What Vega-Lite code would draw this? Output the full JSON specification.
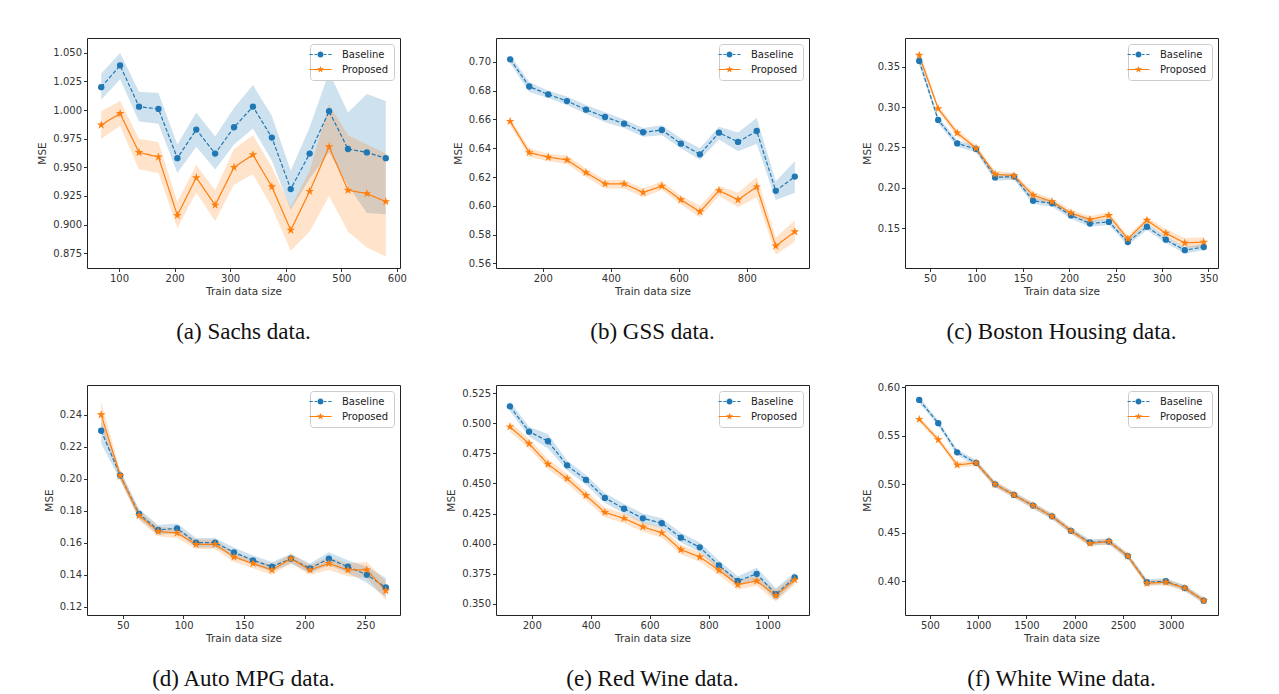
{
"$schema":"https://vega.github.io/schema/vega-lite/v6.json",
"background":"white",
"padding":{"left":37,"top":37,"right":10,"bottom":5},
"data":{"values":[
{"p":"a","x":68,"s":"Baseline","m":1.020,"lo":1.009,"hi":1.032},
{"p":"a","x":102,"s":"Baseline","m":1.039,"lo":1.027,"hi":1.050},
{"p":"a","x":136,"s":"Baseline","m":1.003,"lo":0.990,"hi":1.016},
{"p":"a","x":171,"s":"Baseline","m":1.001,"lo":0.988,"hi":1.015},
{"p":"a","x":205,"s":"Baseline","m":0.958,"lo":0.945,"hi":0.970},
{"p":"a","x":239,"s":"Baseline","m":0.983,"lo":0.968,"hi":0.998},
{"p":"a","x":273,"s":"Baseline","m":0.962,"lo":0.948,"hi":0.977},
{"p":"a","x":307,"s":"Baseline","m":0.985,"lo":0.970,"hi":1.002},
{"p":"a","x":341,"s":"Baseline","m":1.003,"lo":0.984,"hi":1.022},
{"p":"a","x":375,"s":"Baseline","m":0.976,"lo":0.956,"hi":0.995},
{"p":"a","x":409,"s":"Baseline","m":0.931,"lo":0.913,"hi":0.947},
{"p":"a","x":443,"s":"Baseline","m":0.962,"lo":0.940,"hi":0.985},
{"p":"a","x":478,"s":"Baseline","m":0.999,"lo":0.963,"hi":1.033},
{"p":"a","x":512,"s":"Baseline","m":0.966,"lo":0.934,"hi":0.998},
{"p":"a","x":546,"s":"Baseline","m":0.963,"lo":0.910,"hi":1.014},
{"p":"a","x":580,"s":"Baseline","m":0.958,"lo":0.909,"hi":1.008},
{"p":"a","x":68,"s":"Proposed","m":0.987,"lo":0.975,"hi":0.999},
{"p":"a","x":102,"s":"Proposed","m":0.997,"lo":0.986,"hi":1.008},
{"p":"a","x":136,"s":"Proposed","m":0.963,"lo":0.948,"hi":0.975},
{"p":"a","x":171,"s":"Proposed","m":0.959,"lo":0.945,"hi":0.972},
{"p":"a","x":205,"s":"Proposed","m":0.908,"lo":0.897,"hi":0.920},
{"p":"a","x":239,"s":"Proposed","m":0.941,"lo":0.928,"hi":0.952},
{"p":"a","x":273,"s":"Proposed","m":0.917,"lo":0.903,"hi":0.930},
{"p":"a","x":307,"s":"Proposed","m":0.950,"lo":0.935,"hi":0.966},
{"p":"a","x":341,"s":"Proposed","m":0.961,"lo":0.944,"hi":0.978},
{"p":"a","x":375,"s":"Proposed","m":0.933,"lo":0.915,"hi":0.950},
{"p":"a","x":409,"s":"Proposed","m":0.895,"lo":0.877,"hi":0.915},
{"p":"a","x":443,"s":"Proposed","m":0.929,"lo":0.894,"hi":0.947},
{"p":"a","x":478,"s":"Proposed","m":0.968,"lo":0.925,"hi":1.005},
{"p":"a","x":512,"s":"Proposed","m":0.930,"lo":0.894,"hi":0.978},
{"p":"a","x":546,"s":"Proposed","m":0.927,"lo":0.880,"hi":0.970},
{"p":"a","x":580,"s":"Proposed","m":0.920,"lo":0.872,"hi":0.962},
{"p":"b","x":104,"s":"Baseline","m":0.7018,"lo":0.699,"hi":0.705},
{"p":"b","x":160,"s":"Baseline","m":0.6829,"lo":0.679,"hi":0.686},
{"p":"b","x":216,"s":"Baseline","m":0.6774,"lo":0.675,"hi":0.680},
{"p":"b","x":271,"s":"Baseline","m":0.6728,"lo":0.670,"hi":0.676},
{"p":"b","x":327,"s":"Baseline","m":0.6668,"lo":0.664,"hi":0.670},
{"p":"b","x":383,"s":"Baseline","m":0.6617,"lo":0.658,"hi":0.665},
{"p":"b","x":439,"s":"Baseline","m":0.6571,"lo":0.654,"hi":0.660},
{"p":"b","x":495,"s":"Baseline","m":0.6511,"lo":0.648,"hi":0.654},
{"p":"b","x":550,"s":"Baseline","m":0.6527,"lo":0.649,"hi":0.656},
{"p":"b","x":606,"s":"Baseline","m":0.6432,"lo":0.640,"hi":0.647},
{"p":"b","x":662,"s":"Baseline","m":0.6358,"lo":0.632,"hi":0.640},
{"p":"b","x":718,"s":"Baseline","m":0.6508,"lo":0.646,"hi":0.655},
{"p":"b","x":774,"s":"Baseline","m":0.6444,"lo":0.638,"hi":0.651},
{"p":"b","x":829,"s":"Baseline","m":0.6520,"lo":0.643,"hi":0.661},
{"p":"b","x":885,"s":"Baseline","m":0.6104,"lo":0.604,"hi":0.617},
{"p":"b","x":941,"s":"Baseline","m":0.6203,"lo":0.609,"hi":0.631},
{"p":"b","x":104,"s":"Proposed","m":0.6587,"lo":0.656,"hi":0.661},
{"p":"b","x":160,"s":"Proposed","m":0.6370,"lo":0.634,"hi":0.640},
{"p":"b","x":216,"s":"Proposed","m":0.6338,"lo":0.631,"hi":0.636},
{"p":"b","x":271,"s":"Proposed","m":0.6319,"lo":0.629,"hi":0.635},
{"p":"b","x":327,"s":"Proposed","m":0.6231,"lo":0.620,"hi":0.626},
{"p":"b","x":383,"s":"Proposed","m":0.6153,"lo":0.612,"hi":0.618},
{"p":"b","x":439,"s":"Proposed","m":0.6153,"lo":0.612,"hi":0.618},
{"p":"b","x":495,"s":"Proposed","m":0.6093,"lo":0.606,"hi":0.612},
{"p":"b","x":550,"s":"Proposed","m":0.6137,"lo":0.611,"hi":0.617},
{"p":"b","x":606,"s":"Proposed","m":0.6042,"lo":0.601,"hi":0.607},
{"p":"b","x":662,"s":"Proposed","m":0.5959,"lo":0.592,"hi":0.600},
{"p":"b","x":718,"s":"Proposed","m":0.6106,"lo":0.607,"hi":0.614},
{"p":"b","x":774,"s":"Proposed","m":0.6042,"lo":0.599,"hi":0.609},
{"p":"b","x":829,"s":"Proposed","m":0.6132,"lo":0.606,"hi":0.620},
{"p":"b","x":885,"s":"Proposed","m":0.5721,"lo":0.566,"hi":0.578},
{"p":"b","x":941,"s":"Proposed","m":0.5820,"lo":0.575,"hi":0.590},
{"p":"c","x":38.5,"s":"Baseline","m":0.357,"lo":0.352,"hi":0.362},
{"p":"c","x":58.9,"s":"Baseline","m":0.284,"lo":0.280,"hi":0.288},
{"p":"c","x":79.4,"s":"Baseline","m":0.255,"lo":0.251,"hi":0.259},
{"p":"c","x":99.8,"s":"Baseline","m":0.248,"lo":0.244,"hi":0.252},
{"p":"c","x":120.2,"s":"Baseline","m":0.213,"lo":0.209,"hi":0.217},
{"p":"c","x":140.7,"s":"Baseline","m":0.214,"lo":0.210,"hi":0.218},
{"p":"c","x":161.1,"s":"Baseline","m":0.184,"lo":0.180,"hi":0.188},
{"p":"c","x":181.5,"s":"Baseline","m":0.181,"lo":0.177,"hi":0.185},
{"p":"c","x":202,"s":"Baseline","m":0.166,"lo":0.162,"hi":0.170},
{"p":"c","x":222.4,"s":"Baseline","m":0.156,"lo":0.152,"hi":0.160},
{"p":"c","x":242.8,"s":"Baseline","m":0.158,"lo":0.154,"hi":0.162},
{"p":"c","x":263.2,"s":"Baseline","m":0.133,"lo":0.129,"hi":0.137},
{"p":"c","x":283.7,"s":"Baseline","m":0.152,"lo":0.148,"hi":0.156},
{"p":"c","x":304.1,"s":"Baseline","m":0.136,"lo":0.132,"hi":0.140},
{"p":"c","x":324.5,"s":"Baseline","m":0.123,"lo":0.119,"hi":0.127},
{"p":"c","x":345,"s":"Baseline","m":0.127,"lo":0.123,"hi":0.131},
{"p":"c","x":38.5,"s":"Proposed","m":0.364,"lo":0.358,"hi":0.370},
{"p":"c","x":58.9,"s":"Proposed","m":0.298,"lo":0.294,"hi":0.302},
{"p":"c","x":79.4,"s":"Proposed","m":0.268,"lo":0.264,"hi":0.272},
{"p":"c","x":99.8,"s":"Proposed","m":0.249,"lo":0.245,"hi":0.253},
{"p":"c","x":120.2,"s":"Proposed","m":0.217,"lo":0.213,"hi":0.221},
{"p":"c","x":140.7,"s":"Proposed","m":0.215,"lo":0.211,"hi":0.219},
{"p":"c","x":161.1,"s":"Proposed","m":0.191,"lo":0.187,"hi":0.195},
{"p":"c","x":181.5,"s":"Proposed","m":0.183,"lo":0.179,"hi":0.187},
{"p":"c","x":202,"s":"Proposed","m":0.169,"lo":0.165,"hi":0.173},
{"p":"c","x":222.4,"s":"Proposed","m":0.161,"lo":0.157,"hi":0.165},
{"p":"c","x":242.8,"s":"Proposed","m":0.166,"lo":0.162,"hi":0.170},
{"p":"c","x":263.2,"s":"Proposed","m":0.137,"lo":0.133,"hi":0.141},
{"p":"c","x":283.7,"s":"Proposed","m":0.160,"lo":0.156,"hi":0.164},
{"p":"c","x":304.1,"s":"Proposed","m":0.144,"lo":0.139,"hi":0.149},
{"p":"c","x":324.5,"s":"Proposed","m":0.132,"lo":0.126,"hi":0.138},
{"p":"c","x":345,"s":"Proposed","m":0.133,"lo":0.127,"hi":0.139},
{"p":"d","x":32.1,"s":"Baseline","m":0.230,"lo":0.222,"hi":0.237},
{"p":"d","x":47.8,"s":"Baseline","m":0.202,"lo":0.199,"hi":0.205},
{"p":"d","x":63.4,"s":"Baseline","m":0.178,"lo":0.175,"hi":0.181},
{"p":"d","x":79.1,"s":"Baseline","m":0.168,"lo":0.165,"hi":0.171},
{"p":"d","x":94.7,"s":"Baseline","m":0.169,"lo":0.166,"hi":0.172},
{"p":"d","x":110.4,"s":"Baseline","m":0.160,"lo":0.157,"hi":0.163},
{"p":"d","x":126.1,"s":"Baseline","m":0.160,"lo":0.157,"hi":0.163},
{"p":"d","x":141.7,"s":"Baseline","m":0.154,"lo":0.151,"hi":0.157},
{"p":"d","x":157.4,"s":"Baseline","m":0.149,"lo":0.146,"hi":0.152},
{"p":"d","x":173.0,"s":"Baseline","m":0.145,"lo":0.142,"hi":0.148},
{"p":"d","x":188.7,"s":"Baseline","m":0.150,"lo":0.147,"hi":0.153},
{"p":"d","x":204.4,"s":"Baseline","m":0.144,"lo":0.141,"hi":0.147},
{"p":"d","x":220.0,"s":"Baseline","m":0.150,"lo":0.146,"hi":0.154},
{"p":"d","x":235.7,"s":"Baseline","m":0.145,"lo":0.141,"hi":0.149},
{"p":"d","x":251.3,"s":"Baseline","m":0.140,"lo":0.135,"hi":0.145},
{"p":"d","x":267.0,"s":"Baseline","m":0.132,"lo":0.126,"hi":0.138},
{"p":"d","x":32.1,"s":"Proposed","m":0.240,"lo":0.232,"hi":0.248},
{"p":"d","x":47.8,"s":"Proposed","m":0.202,"lo":0.199,"hi":0.205},
{"p":"d","x":63.4,"s":"Proposed","m":0.177,"lo":0.174,"hi":0.180},
{"p":"d","x":79.1,"s":"Proposed","m":0.167,"lo":0.164,"hi":0.170},
{"p":"d","x":94.7,"s":"Proposed","m":0.166,"lo":0.163,"hi":0.169},
{"p":"d","x":110.4,"s":"Proposed","m":0.159,"lo":0.156,"hi":0.162},
{"p":"d","x":126.1,"s":"Proposed","m":0.159,"lo":0.156,"hi":0.162},
{"p":"d","x":141.7,"s":"Proposed","m":0.151,"lo":0.148,"hi":0.154},
{"p":"d","x":157.4,"s":"Proposed","m":0.147,"lo":0.144,"hi":0.150},
{"p":"d","x":173.0,"s":"Proposed","m":0.143,"lo":0.140,"hi":0.146},
{"p":"d","x":188.7,"s":"Proposed","m":0.150,"lo":0.147,"hi":0.153},
{"p":"d","x":204.4,"s":"Proposed","m":0.143,"lo":0.140,"hi":0.146},
{"p":"d","x":220.0,"s":"Proposed","m":0.147,"lo":0.143,"hi":0.151},
{"p":"d","x":235.7,"s":"Proposed","m":0.143,"lo":0.139,"hi":0.147},
{"p":"d","x":251.3,"s":"Proposed","m":0.143,"lo":0.138,"hi":0.148},
{"p":"d","x":267.0,"s":"Proposed","m":0.130,"lo":0.124,"hi":0.136},
{"p":"e","x":126,"s":"Baseline","m":0.514,"lo":0.510,"hi":0.518},
{"p":"e","x":191,"s":"Baseline","m":0.493,"lo":0.489,"hi":0.497},
{"p":"e","x":255,"s":"Baseline","m":0.485,"lo":0.479,"hi":0.491},
{"p":"e","x":320,"s":"Baseline","m":0.465,"lo":0.461,"hi":0.469},
{"p":"e","x":384,"s":"Baseline","m":0.453,"lo":0.449,"hi":0.457},
{"p":"e","x":448,"s":"Baseline","m":0.438,"lo":0.434,"hi":0.442},
{"p":"e","x":513,"s":"Baseline","m":0.429,"lo":0.425,"hi":0.433},
{"p":"e","x":577,"s":"Baseline","m":0.421,"lo":0.417,"hi":0.425},
{"p":"e","x":641,"s":"Baseline","m":0.417,"lo":0.413,"hi":0.421},
{"p":"e","x":706,"s":"Baseline","m":0.405,"lo":0.401,"hi":0.409},
{"p":"e","x":770,"s":"Baseline","m":0.397,"lo":0.393,"hi":0.401},
{"p":"e","x":835,"s":"Baseline","m":0.382,"lo":0.378,"hi":0.386},
{"p":"e","x":899,"s":"Baseline","m":0.369,"lo":0.365,"hi":0.373},
{"p":"e","x":963,"s":"Baseline","m":0.375,"lo":0.370,"hi":0.380},
{"p":"e","x":1028,"s":"Baseline","m":0.358,"lo":0.353,"hi":0.363},
{"p":"e","x":1092,"s":"Baseline","m":0.372,"lo":0.368,"hi":0.376},
{"p":"e","x":126,"s":"Proposed","m":0.497,"lo":0.493,"hi":0.501},
{"p":"e","x":191,"s":"Proposed","m":0.483,"lo":0.479,"hi":0.487},
{"p":"e","x":255,"s":"Proposed","m":0.466,"lo":0.462,"hi":0.470},
{"p":"e","x":320,"s":"Proposed","m":0.454,"lo":0.450,"hi":0.458},
{"p":"e","x":384,"s":"Proposed","m":0.440,"lo":0.436,"hi":0.444},
{"p":"e","x":448,"s":"Proposed","m":0.426,"lo":0.422,"hi":0.430},
{"p":"e","x":513,"s":"Proposed","m":0.421,"lo":0.417,"hi":0.425},
{"p":"e","x":577,"s":"Proposed","m":0.414,"lo":0.410,"hi":0.418},
{"p":"e","x":641,"s":"Proposed","m":0.409,"lo":0.405,"hi":0.413},
{"p":"e","x":706,"s":"Proposed","m":0.395,"lo":0.391,"hi":0.399},
{"p":"e","x":770,"s":"Proposed","m":0.389,"lo":0.385,"hi":0.393},
{"p":"e","x":835,"s":"Proposed","m":0.378,"lo":0.374,"hi":0.382},
{"p":"e","x":899,"s":"Proposed","m":0.366,"lo":0.362,"hi":0.370},
{"p":"e","x":963,"s":"Proposed","m":0.369,"lo":0.365,"hi":0.373},
{"p":"e","x":1028,"s":"Proposed","m":0.357,"lo":0.352,"hi":0.362},
{"p":"e","x":1092,"s":"Proposed","m":0.370,"lo":0.366,"hi":0.374},
{"p":"f","x":389,"s":"Baseline","m":0.587,"lo":0.584,"hi":0.590},
{"p":"f","x":586,"s":"Baseline","m":0.563,"lo":0.560,"hi":0.566},
{"p":"f","x":782,"s":"Baseline","m":0.533,"lo":0.530,"hi":0.536},
{"p":"f","x":979,"s":"Baseline","m":0.522,"lo":0.519,"hi":0.525},
{"p":"f","x":1176,"s":"Baseline","m":0.500,"lo":0.497,"hi":0.503},
{"p":"f","x":1372,"s":"Baseline","m":0.489,"lo":0.486,"hi":0.492},
{"p":"f","x":1569,"s":"Baseline","m":0.478,"lo":0.475,"hi":0.481},
{"p":"f","x":1766,"s":"Baseline","m":0.467,"lo":0.464,"hi":0.470},
{"p":"f","x":1962,"s":"Baseline","m":0.452,"lo":0.449,"hi":0.455},
{"p":"f","x":2159,"s":"Baseline","m":0.440,"lo":0.437,"hi":0.443},
{"p":"f","x":2356,"s":"Baseline","m":0.441,"lo":0.438,"hi":0.444},
{"p":"f","x":2552,"s":"Baseline","m":0.426,"lo":0.423,"hi":0.429},
{"p":"f","x":2749,"s":"Baseline","m":0.399,"lo":0.396,"hi":0.402},
{"p":"f","x":2946,"s":"Baseline","m":0.400,"lo":0.397,"hi":0.403},
{"p":"f","x":3142,"s":"Baseline","m":0.393,"lo":0.390,"hi":0.396},
{"p":"f","x":3339,"s":"Baseline","m":0.380,"lo":0.377,"hi":0.383},
{"p":"f","x":389,"s":"Proposed","m":0.567,"lo":0.564,"hi":0.570},
{"p":"f","x":586,"s":"Proposed","m":0.546,"lo":0.543,"hi":0.549},
{"p":"f","x":782,"s":"Proposed","m":0.520,"lo":0.517,"hi":0.523},
{"p":"f","x":979,"s":"Proposed","m":0.522,"lo":0.519,"hi":0.525},
{"p":"f","x":1176,"s":"Proposed","m":0.500,"lo":0.497,"hi":0.503},
{"p":"f","x":1372,"s":"Proposed","m":0.489,"lo":0.486,"hi":0.492},
{"p":"f","x":1569,"s":"Proposed","m":0.478,"lo":0.475,"hi":0.481},
{"p":"f","x":1766,"s":"Proposed","m":0.467,"lo":0.464,"hi":0.470},
{"p":"f","x":1962,"s":"Proposed","m":0.452,"lo":0.449,"hi":0.455},
{"p":"f","x":2159,"s":"Proposed","m":0.439,"lo":0.436,"hi":0.442},
{"p":"f","x":2356,"s":"Proposed","m":0.441,"lo":0.438,"hi":0.444},
{"p":"f","x":2552,"s":"Proposed","m":0.426,"lo":0.423,"hi":0.429},
{"p":"f","x":2749,"s":"Proposed","m":0.398,"lo":0.395,"hi":0.401},
{"p":"f","x":2946,"s":"Proposed","m":0.399,"lo":0.396,"hi":0.402},
{"p":"f","x":3142,"s":"Proposed","m":0.393,"lo":0.390,"hi":0.396},
{"p":"f","x":3339,"s":"Proposed","m":0.380,"lo":0.377,"hi":0.383}
]},
"columns":3,
"spacing":{"row":117,"column":96},
"bounds":"flush",
"resolve":{"scale":{"x":"independent","y":"independent","color":"independent","shape":"independent","strokeDash":"independent"},"legend":{"color":"independent","shape":"independent"}},
"concat":[
{"width":313,"height":230,"title":"(a) Sachs data.","transform":[{"filter":"datum.p === 'a'"}],
"layer":[
{"mark":{"type":"area","opacity":0.22},"encoding":{
"x":{"field":"x","type":"quantitative","scale":{"domain":[42.4,605.6],"nice":false,"zero":false},"axis":{"values":[100,200,300,400,500,600],"format":"d","tickCount":30},"title":"Train data size"},
"y":{"field":"lo","type":"quantitative","scale":{"domain":[0.862,1.063],"nice":false,"zero":false},"axis":{"values":[0.875,0.9,0.925,0.95,0.975,1.0,1.025,1.05],"format":".3f","tickCount":30},"title":"MSE"},
"y2":{"field":"hi"},
"color":{"field":"s","type":"nominal","scale":{"domain":["Baseline","Proposed"],"range":["#1f77b4","#ff7f0e"]},"legend":{"title":null}}}},
{"mark":{"type":"line","strokeWidth":1.2},"encoding":{
"x":{"field":"x","type":"quantitative","title":"Train data size"},
"y":{"field":"m","type":"quantitative","title":"MSE"},
"color":{"field":"s","type":"nominal","legend":{"title":null}},
"strokeDash":{"field":"s","type":"nominal","scale":{"domain":["Baseline","Proposed"],"range":[[4,2],[1,0]]},"legend":null}}},
{"transform":[{"filter":"datum.s === 'Baseline'"}],"mark":{"type":"point","filled":true,"size":40,"opacity":1,"shape":"circle","color":"#1f77b4"},"encoding":{
"x":{"field":"x","type":"quantitative","title":"Train data size"},
"y":{"field":"m","type":"quantitative","title":"MSE"}}},
{"transform":[{"filter":"datum.s === 'Proposed'"}],"mark":{"type":"point","filled":true,"size":40,"opacity":1,"shape":"M0,-1.45L0.324,-0.446L1.379,-0.448L0.524,0.17L0.852,1.173L0,0.551L-0.852,1.173L-0.524,0.17L-1.379,-0.448L-0.324,-0.446Z","color":"#ff7f0e"},"encoding":{
"x":{"field":"x","type":"quantitative","title":"Train data size"},
"y":{"field":"m","type":"quantitative","title":"MSE"}}},
{"mark":{"type":"point","filled":true,"size":121,"opacity":0},"encoding":{
"x":{"field":"x","type":"quantitative","title":"Train data size"},
"y":{"field":"m","type":"quantitative","title":"MSE"},
"color":{"field":"s","type":"nominal","legend":{"title":null}},
"shape":{"field":"s","type":"nominal","scale":{"domain":["Baseline","Proposed"],"range":["M-2,-0.1H-1.4V0.1H-2Z M-1.1,-0.1H-0.65V0.1H-1.1Z M0.65,-0.1H1.1V0.1H0.65Z M1.4,-0.1H2V0.1H1.4Z M-0.55,0A0.55,0.55,0,1,1,0.55,0A0.55,0.55,0,1,1,-0.55,0Z","M-2,-0.1H2V0.1H-2Z M0,-0.7L0.156,-0.215L0.666,-0.216L0.253,0.082L0.412,0.566L0,0.266L-0.412,0.566L-0.253,0.082L-0.666,-0.216L-0.156,-0.215Z"]},"legend":{"title":null}}}}
]},
{"width":313,"height":230,"title":"(b) GSS data.","transform":[{"filter":"datum.p === 'b'"}],
"layer":[
{"mark":{"type":"area","opacity":0.22},"encoding":{
"x":{"field":"x","type":"quantitative","scale":{"domain":[62.4,982.7],"nice":false,"zero":false},"axis":{"values":[200,400,600,800],"format":"d","tickCount":30},"title":"Train data size"},
"y":{"field":"lo","type":"quantitative","scale":{"domain":[0.5568,0.7166],"nice":false,"zero":false},"axis":{"values":[0.56,0.58,0.6,0.62,0.64,0.66,0.68,0.7],"format":".2f","tickCount":30},"title":"MSE"},
"y2":{"field":"hi"},
"color":{"field":"s","type":"nominal","scale":{"domain":["Baseline","Proposed"],"range":["#1f77b4","#ff7f0e"]},"legend":{"title":null}}}},
{"mark":{"type":"line","strokeWidth":1.2},"encoding":{
"x":{"field":"x","type":"quantitative","title":"Train data size"},
"y":{"field":"m","type":"quantitative","title":"MSE"},
"color":{"field":"s","type":"nominal","legend":{"title":null}},
"strokeDash":{"field":"s","type":"nominal","scale":{"domain":["Baseline","Proposed"],"range":[[4,2],[1,0]]},"legend":null}}},
{"transform":[{"filter":"datum.s === 'Baseline'"}],"mark":{"type":"point","filled":true,"size":40,"opacity":1,"shape":"circle","color":"#1f77b4"},"encoding":{
"x":{"field":"x","type":"quantitative","title":"Train data size"},
"y":{"field":"m","type":"quantitative","title":"MSE"}}},
{"transform":[{"filter":"datum.s === 'Proposed'"}],"mark":{"type":"point","filled":true,"size":40,"opacity":1,"shape":"M0,-1.45L0.324,-0.446L1.379,-0.448L0.524,0.17L0.852,1.173L0,0.551L-0.852,1.173L-0.524,0.17L-1.379,-0.448L-0.324,-0.446Z","color":"#ff7f0e"},"encoding":{
"x":{"field":"x","type":"quantitative","title":"Train data size"},
"y":{"field":"m","type":"quantitative","title":"MSE"}}},
{"mark":{"type":"point","filled":true,"size":121,"opacity":0},"encoding":{
"x":{"field":"x","type":"quantitative","title":"Train data size"},
"y":{"field":"m","type":"quantitative","title":"MSE"},
"color":{"field":"s","type":"nominal","legend":{"title":null}},
"shape":{"field":"s","type":"nominal","scale":{"domain":["Baseline","Proposed"],"range":["M-2,-0.1H-1.4V0.1H-2Z M-1.1,-0.1H-0.65V0.1H-1.1Z M0.65,-0.1H1.1V0.1H0.65Z M1.4,-0.1H2V0.1H1.4Z M-0.55,0A0.55,0.55,0,1,1,0.55,0A0.55,0.55,0,1,1,-0.55,0Z","M-2,-0.1H2V0.1H-2Z M0,-0.7L0.156,-0.215L0.666,-0.216L0.253,0.082L0.412,0.566L0,0.266L-0.412,0.566L-0.253,0.082L-0.666,-0.216L-0.156,-0.215Z"]},"legend":{"title":null}}}}
]},
{"width":313,"height":230,"title":"(c) Boston Housing data.","transform":[{"filter":"datum.p === 'c'"}],
"layer":[
{"mark":{"type":"area","opacity":0.22},"encoding":{
"x":{"field":"x","type":"quantitative","scale":{"domain":[23.2,360.3],"nice":false,"zero":false},"axis":{"values":[50,100,150,200,250,300,350],"format":"d","tickCount":30},"title":"Train data size"},
"y":{"field":"lo","type":"quantitative","scale":{"domain":[0.101,0.3853],"nice":false,"zero":false},"axis":{"values":[0.15,0.2,0.25,0.3,0.35],"format":".2f","tickCount":30},"title":"MSE"},
"y2":{"field":"hi"},
"color":{"field":"s","type":"nominal","scale":{"domain":["Baseline","Proposed"],"range":["#1f77b4","#ff7f0e"]},"legend":{"title":null}}}},
{"mark":{"type":"line","strokeWidth":1.2},"encoding":{
"x":{"field":"x","type":"quantitative","title":"Train data size"},
"y":{"field":"m","type":"quantitative","title":"MSE"},
"color":{"field":"s","type":"nominal","legend":{"title":null}},
"strokeDash":{"field":"s","type":"nominal","scale":{"domain":["Baseline","Proposed"],"range":[[4,2],[1,0]]},"legend":null}}},
{"transform":[{"filter":"datum.s === 'Baseline'"}],"mark":{"type":"point","filled":true,"size":40,"opacity":1,"shape":"circle","color":"#1f77b4"},"encoding":{
"x":{"field":"x","type":"quantitative","title":"Train data size"},
"y":{"field":"m","type":"quantitative","title":"MSE"}}},
{"transform":[{"filter":"datum.s === 'Proposed'"}],"mark":{"type":"point","filled":true,"size":40,"opacity":1,"shape":"M0,-1.45L0.324,-0.446L1.379,-0.448L0.524,0.17L0.852,1.173L0,0.551L-0.852,1.173L-0.524,0.17L-1.379,-0.448L-0.324,-0.446Z","color":"#ff7f0e"},"encoding":{
"x":{"field":"x","type":"quantitative","title":"Train data size"},
"y":{"field":"m","type":"quantitative","title":"MSE"}}},
{"mark":{"type":"point","filled":true,"size":121,"opacity":0},"encoding":{
"x":{"field":"x","type":"quantitative","title":"Train data size"},
"y":{"field":"m","type":"quantitative","title":"MSE"},
"color":{"field":"s","type":"nominal","legend":{"title":null}},
"shape":{"field":"s","type":"nominal","scale":{"domain":["Baseline","Proposed"],"range":["M-2,-0.1H-1.4V0.1H-2Z M-1.1,-0.1H-0.65V0.1H-1.1Z M0.65,-0.1H1.1V0.1H0.65Z M1.4,-0.1H2V0.1H1.4Z M-0.55,0A0.55,0.55,0,1,1,0.55,0A0.55,0.55,0,1,1,-0.55,0Z","M-2,-0.1H2V0.1H-2Z M0,-0.7L0.156,-0.215L0.666,-0.216L0.253,0.082L0.412,0.566L0,0.266L-0.412,0.566L-0.253,0.082L-0.666,-0.216L-0.156,-0.215Z"]},"legend":{"title":null}}}}
]},
{"width":313,"height":230,"title":"(d) Auto MPG data.","transform":[{"filter":"datum.p === 'd'"}],
"layer":[
{"mark":{"type":"area","opacity":0.22},"encoding":{
"x":{"field":"x","type":"quantitative","scale":{"domain":[20.4,278.7],"nice":false,"zero":false},"axis":{"values":[50,100,150,200,250],"format":"d","tickCount":30},"title":"Train data size"},
"y":{"field":"lo","type":"quantitative","scale":{"domain":[0.1148,0.2586],"nice":false,"zero":false},"axis":{"values":[0.12,0.14,0.16,0.18,0.2,0.22,0.24],"format":".2f","tickCount":30},"title":"MSE"},
"y2":{"field":"hi"},
"color":{"field":"s","type":"nominal","scale":{"domain":["Baseline","Proposed"],"range":["#1f77b4","#ff7f0e"]},"legend":{"title":null}}}},
{"mark":{"type":"line","strokeWidth":1.2},"encoding":{
"x":{"field":"x","type":"quantitative","title":"Train data size"},
"y":{"field":"m","type":"quantitative","title":"MSE"},
"color":{"field":"s","type":"nominal","legend":{"title":null}},
"strokeDash":{"field":"s","type":"nominal","scale":{"domain":["Baseline","Proposed"],"range":[[4,2],[1,0]]},"legend":null}}},
{"transform":[{"filter":"datum.s === 'Baseline'"}],"mark":{"type":"point","filled":true,"size":40,"opacity":1,"shape":"circle","color":"#1f77b4"},"encoding":{
"x":{"field":"x","type":"quantitative","title":"Train data size"},
"y":{"field":"m","type":"quantitative","title":"MSE"}}},
{"transform":[{"filter":"datum.s === 'Proposed'"}],"mark":{"type":"point","filled":true,"size":40,"opacity":1,"shape":"M0,-1.45L0.324,-0.446L1.379,-0.448L0.524,0.17L0.852,1.173L0,0.551L-0.852,1.173L-0.524,0.17L-1.379,-0.448L-0.324,-0.446Z","color":"#ff7f0e"},"encoding":{
"x":{"field":"x","type":"quantitative","title":"Train data size"},
"y":{"field":"m","type":"quantitative","title":"MSE"}}},
{"mark":{"type":"point","filled":true,"size":121,"opacity":0},"encoding":{
"x":{"field":"x","type":"quantitative","title":"Train data size"},
"y":{"field":"m","type":"quantitative","title":"MSE"},
"color":{"field":"s","type":"nominal","legend":{"title":null}},
"shape":{"field":"s","type":"nominal","scale":{"domain":["Baseline","Proposed"],"range":["M-2,-0.1H-1.4V0.1H-2Z M-1.1,-0.1H-0.65V0.1H-1.1Z M0.65,-0.1H1.1V0.1H0.65Z M1.4,-0.1H2V0.1H1.4Z M-0.55,0A0.55,0.55,0,1,1,0.55,0A0.55,0.55,0,1,1,-0.55,0Z","M-2,-0.1H2V0.1H-2Z M0,-0.7L0.156,-0.215L0.666,-0.216L0.253,0.082L0.412,0.566L0,0.266L-0.412,0.566L-0.253,0.082L-0.666,-0.216L-0.156,-0.215Z"]},"legend":{"title":null}}}}
]},
{"width":313,"height":230,"title":"(e) Red Wine data.","transform":[{"filter":"datum.p === 'e'"}],
"layer":[
{"mark":{"type":"area","opacity":0.22},"encoding":{
"x":{"field":"x","type":"quantitative","scale":{"domain":[78.8,1140.5],"nice":false,"zero":false},"axis":{"values":[200,400,600,800,1000],"format":"d","tickCount":30},"title":"Train data size"},
"y":{"field":"lo","type":"quantitative","scale":{"domain":[0.3408,0.5317],"nice":false,"zero":false},"axis":{"values":[0.35,0.375,0.4,0.425,0.45,0.475,0.5,0.525],"format":".3f","tickCount":30},"title":"MSE"},
"y2":{"field":"hi"},
"color":{"field":"s","type":"nominal","scale":{"domain":["Baseline","Proposed"],"range":["#1f77b4","#ff7f0e"]},"legend":{"title":null}}}},
{"mark":{"type":"line","strokeWidth":1.2},"encoding":{
"x":{"field":"x","type":"quantitative","title":"Train data size"},
"y":{"field":"m","type":"quantitative","title":"MSE"},
"color":{"field":"s","type":"nominal","legend":{"title":null}},
"strokeDash":{"field":"s","type":"nominal","scale":{"domain":["Baseline","Proposed"],"range":[[4,2],[1,0]]},"legend":null}}},
{"transform":[{"filter":"datum.s === 'Baseline'"}],"mark":{"type":"point","filled":true,"size":40,"opacity":1,"shape":"circle","color":"#1f77b4"},"encoding":{
"x":{"field":"x","type":"quantitative","title":"Train data size"},
"y":{"field":"m","type":"quantitative","title":"MSE"}}},
{"transform":[{"filter":"datum.s === 'Proposed'"}],"mark":{"type":"point","filled":true,"size":40,"opacity":1,"shape":"M0,-1.45L0.324,-0.446L1.379,-0.448L0.524,0.17L0.852,1.173L0,0.551L-0.852,1.173L-0.524,0.17L-1.379,-0.448L-0.324,-0.446Z","color":"#ff7f0e"},"encoding":{
"x":{"field":"x","type":"quantitative","title":"Train data size"},
"y":{"field":"m","type":"quantitative","title":"MSE"}}},
{"mark":{"type":"point","filled":true,"size":121,"opacity":0},"encoding":{
"x":{"field":"x","type":"quantitative","title":"Train data size"},
"y":{"field":"m","type":"quantitative","title":"MSE"},
"color":{"field":"s","type":"nominal","legend":{"title":null}},
"shape":{"field":"s","type":"nominal","scale":{"domain":["Baseline","Proposed"],"range":["M-2,-0.1H-1.4V0.1H-2Z M-1.1,-0.1H-0.65V0.1H-1.1Z M0.65,-0.1H1.1V0.1H0.65Z M1.4,-0.1H2V0.1H1.4Z M-0.55,0A0.55,0.55,0,1,1,0.55,0A0.55,0.55,0,1,1,-0.55,0Z","M-2,-0.1H2V0.1H-2Z M0,-0.7L0.156,-0.215L0.666,-0.216L0.253,0.082L0.412,0.566L0,0.266L-0.412,0.566L-0.253,0.082L-0.666,-0.216L-0.156,-0.215Z"]},"legend":{"title":null}}}}
]},
{"width":313,"height":230,"title":"(f) White Wine data.","transform":[{"filter":"datum.p === 'f'"}],
"layer":[
{"mark":{"type":"area","opacity":0.22},"encoding":{
"x":{"field":"x","type":"quantitative","scale":{"domain":[241.5,3486.5],"nice":false,"zero":false},"axis":{"values":[500,1000,1500,2000,2500,3000],"format":"d","tickCount":30},"title":"Train data size"},
"y":{"field":"lo","type":"quantitative","scale":{"domain":[0.3652,0.6024],"nice":false,"zero":false},"axis":{"values":[0.4,0.45,0.5,0.55,0.6],"format":".2f","tickCount":30},"title":"MSE"},
"y2":{"field":"hi"},
"color":{"field":"s","type":"nominal","scale":{"domain":["Baseline","Proposed"],"range":["#1f77b4","#ff7f0e"]},"legend":{"title":null}}}},
{"mark":{"type":"line","strokeWidth":1.2},"encoding":{
"x":{"field":"x","type":"quantitative","title":"Train data size"},
"y":{"field":"m","type":"quantitative","title":"MSE"},
"color":{"field":"s","type":"nominal","legend":{"title":null}},
"strokeDash":{"field":"s","type":"nominal","scale":{"domain":["Baseline","Proposed"],"range":[[4,2],[1,0]]},"legend":null}}},
{"transform":[{"filter":"datum.s === 'Baseline'"}],"mark":{"type":"point","filled":true,"size":40,"opacity":1,"shape":"circle","color":"#1f77b4"},"encoding":{
"x":{"field":"x","type":"quantitative","title":"Train data size"},
"y":{"field":"m","type":"quantitative","title":"MSE"}}},
{"transform":[{"filter":"datum.s === 'Proposed'"}],"mark":{"type":"point","filled":true,"size":40,"opacity":1,"shape":"M0,-1.45L0.324,-0.446L1.379,-0.448L0.524,0.17L0.852,1.173L0,0.551L-0.852,1.173L-0.524,0.17L-1.379,-0.448L-0.324,-0.446Z","color":"#ff7f0e"},"encoding":{
"x":{"field":"x","type":"quantitative","title":"Train data size"},
"y":{"field":"m","type":"quantitative","title":"MSE"}}},
{"mark":{"type":"point","filled":true,"size":121,"opacity":0},"encoding":{
"x":{"field":"x","type":"quantitative","title":"Train data size"},
"y":{"field":"m","type":"quantitative","title":"MSE"},
"color":{"field":"s","type":"nominal","legend":{"title":null}},
"shape":{"field":"s","type":"nominal","scale":{"domain":["Baseline","Proposed"],"range":["M-2,-0.1H-1.4V0.1H-2Z M-1.1,-0.1H-0.65V0.1H-1.1Z M0.65,-0.1H1.1V0.1H0.65Z M1.4,-0.1H2V0.1H1.4Z M-0.55,0A0.55,0.55,0,1,1,0.55,0A0.55,0.55,0,1,1,-0.55,0Z","M-2,-0.1H2V0.1H-2Z M0,-0.7L0.156,-0.215L0.666,-0.216L0.253,0.082L0.412,0.566L0,0.266L-0.412,0.566L-0.253,0.082L-0.666,-0.216L-0.156,-0.215Z"]},"legend":{"title":null}}}}
]}
],
"config":{
"view":{"stroke":"#222222","strokeWidth":1},
"axis":{"domain":false,"grid":false,"labelOverlap":false,"labelFlush":false,"labelFont":"DejaVu Sans","labelFontSize":10,"labelColor":"#333333","tickColor":"#333333","tickSize":3.5,"labelPadding":2,"titleFont":"DejaVu Sans","titleFontSize":10.5,"titleFontWeight":"normal","titleColor":"#333333"},
"axisX":{"titlePadding":3},
"axisY":{"titlePadding":5},
"title":{"font":"Liberation Serif","fontSize":23,"fontWeight":"normal","color":"#111111","orient":"bottom","anchor":"middle","offset":24},
"legend":{"orient":"top-right","offset":6,"fillColor":"#ffffff","strokeColor":"#cccccc","cornerRadius":3,"padding":5,"labelFont":"DejaVu Sans","labelFontSize":10,"labelColor":"#222222","symbolSize":121,"symbolOpacity":1,"symbolStrokeWidth":0,"labelOffset":16,"rowPadding":4}
}
}
